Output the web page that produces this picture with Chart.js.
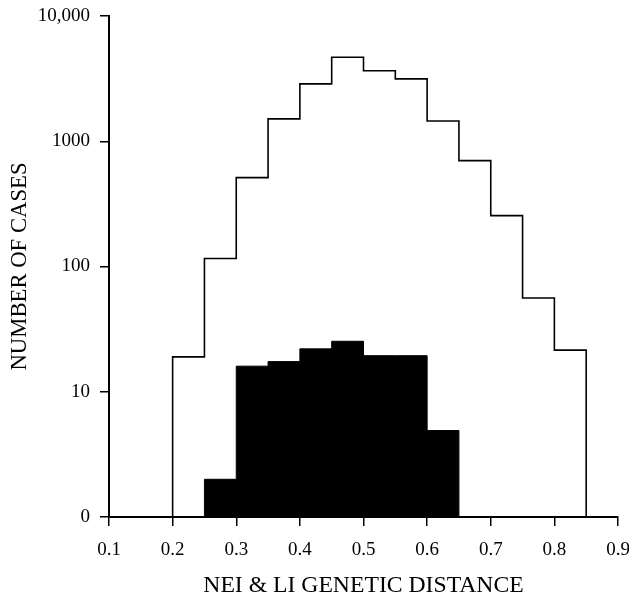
<!DOCTYPE html>
<html><head><meta charset="utf-8">
<script src="https://cdn.jsdelivr.net/npm/chart.js@4"></script>
<style>html,body{margin:0;padding:0;background:#fff;} #wrap{width:629px;height:600px;position:relative;}</style>
</head><body><div id="wrap"><canvas id="c"></canvas></div>
<script>
// Histogram bins (left edges), width 0.05
const binWidth = 0.05;
const allBinStarts = [0.20, 0.25, 0.30, 0.35, 0.40, 0.45, 0.50, 0.55, 0.60, 0.65, 0.70, 0.75, 0.80];
const allCases     = [19, 116, 512, 1510, 2870, 4680, 3650, 3150, 1450, 700, 255, 56, 21.5];
const filledBinStarts = [0.25, 0.30, 0.35, 0.40, 0.45, 0.50, 0.55, 0.60];
const filledCases     = [2, 16, 17.4, 22, 25.3, 19.4, 19.4, 4.9];
const xTickValues = [0.1, 0.2, 0.3, 0.4, 0.5, 0.6, 0.7, 0.8, 0.9];
const yTickValues = [1, 10, 100, 1000, 10000];
const yTickLabels = ['0', '10', '100', '1000', '10,000'];

function stepPoints(starts, counts) {
  const pts = [{x: starts[0], y: 1}];
  starts.forEach((s, i) => pts.push({x: s, y: counts[i]}));
  const end = +(starts[starts.length - 1] + binWidth).toFixed(3);
  pts.push({x: end, y: counts[counts.length - 1]});
  pts.push({x: end, y: 1});
  return pts;
}

const serif = '"Liberation Serif", "DejaVu Serif", serif';

const bgPlugin = {
  id: 'bg',
  beforeDraw(chart) {
    const ctx = chart.ctx;
    ctx.save(); ctx.fillStyle = '#fff'; ctx.fillRect(0, 0, chart.width, chart.height); ctx.restore();
  }
};

new Chart(document.getElementById('c'), {
  type: 'line',
  data: {
    datasets: [
      {
        data: stepPoints(filledBinStarts, filledCases),
        stepped: 'before',
        borderColor: '#000',
        backgroundColor: '#000',
        borderWidth: 1,
        fill: 'start',
        pointRadius: 0,
        tension: 0
      },
      {
        data: stepPoints(allBinStarts, allCases),
        stepped: 'before',
        borderColor: '#000',
        borderWidth: 1.6,
        fill: false,
        pointRadius: 0,
        tension: 0
      }
    ]
  },
  options: {
    responsive: true,
    maintainAspectRatio: false,
    animation: false,
    layout: {padding: {top: 16, right: 11, left: 0, bottom: 0}},
    plugins: {legend: {display: false}, tooltip: {enabled: false}},
    scales: {
      x: {
        type: 'linear',
        min: 0.1, max: 0.9,
        afterBuildTicks(scale) { scale.ticks = xTickValues.map(v => ({value: v})); },
        afterFit(scale) { scale.height = 83; scale.paddingLeft = 0; scale.paddingRight = 0; },
        ticks: {
          callback: v => Number(v).toFixed(1),
          font: {family: serif, size: 19},
          color: '#000',
          padding: 13,
          maxRotation: 0,
          autoSkip: false
        },
        grid: {drawOnChartArea: false, drawTicks: true, tickLength: 9, color: '#000', lineWidth: 1.5},
        border: {display: true, color: '#000', width: 2},
        title: {display: true, text: 'NEI & LI GENETIC DISTANCE', font: {family: serif, size: 23.7}, color: '#000', padding: 0}
      },
      y: {
        type: 'logarithmic',
        min: 1, max: 10000,
        afterBuildTicks(scale) { scale.ticks = yTickValues.map(v => ({value: v})); },
        afterFit(scale) { scale.width = 109; scale.paddingTop = 0; scale.paddingBottom = 0; },
        ticks: {
          callback: v => yTickLabels[yTickValues.indexOf(v)],
          font: {family: serif, size: 19},
          color: '#000',
          padding: 10,
          autoSkip: false
        },
        grid: {drawOnChartArea: false, drawTicks: true, tickLength: 9, color: '#000', lineWidth: 1.5},
        border: {display: true, color: '#000', width: 2},
        title: {display: true, text: 'NUMBER OF CASES', font: {family: serif, size: 22.7}, color: '#000', padding: {top: 6, bottom: 0}}
      }
    }
  },
  plugins: [bgPlugin]
});
</script>
</body></html>
